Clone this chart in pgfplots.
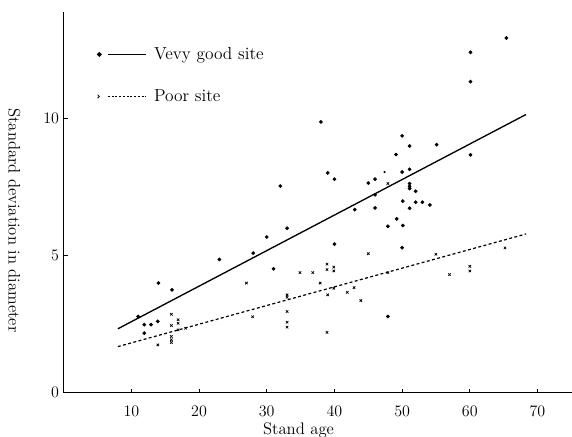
\documentclass[border=0pt]{standalone}
\usepackage{pgfplots}
\pgfplotsset{compat=1.18}
\begin{document}
\begin{tikzpicture}
\begin{axis}[
  scale only axis,
  width=380.6pt, height=285.2pt,
  xmin=0, xmax=75.1, ymin=0, ymax=13.9,
  axis lines=left,
  axis line style={-, line width=0.9pt},
  xtick={10,20,30,40,50,60,70},
  ytick={0,5,10},
  tick align=inside,
  major tick length=3pt,
  tick style={line width=0.6pt, black},
  every x tick label/.append style={font=\fontsize{11.5}{13}\selectfont, yshift=-6.5pt},
  every y tick label/.append style={font=\fontsize{11.5}{13}\selectfont},
  every axis x label/.style={at={(rel axis cs:0.462,0)}, yshift=-28pt, anchor=center, font=\fontsize{12.5}{14}\selectfont},
  every axis y label/.style={at={(rel axis cs:0,0.452)}, xshift=-37pt, rotate=-90, anchor=center, font=\fontsize{12.5}{14}\selectfont},
  xlabel={Stand age},
  ylabel={Standard deviation in diameter},
  legend style={draw=none, fill=none, at={(rel axis cs:0.065,0.914)}, anchor=north west,
    font=\fontsize{13}{15}\selectfont, row sep=17pt, inner sep=0pt,
    nodes={inner sep=2pt}},
  legend cell align=left,
  clip=false,
]
\coordinate (SW) at (rel axis cs:0,0);
\coordinate (NE) at (rel axis cs:1,1);
% good site regression
\addplot[black, line width=1.0pt, no marks,
  legend image code/.code={\fill[black] (0pt,0pt) circle (1.2pt); \draw[line width=0.8pt] (6.5pt,0pt) -- (35pt,0pt); \path (38.5pt,0pt);}]
  coordinates {(8.0,2.33) (68.3,10.15)};
\addlegendentry{Vevy good site}
% poor site regression
\addplot[black, line width=0.9pt, no marks, dash pattern=on 2.2pt off 1.8pt,
  legend image code/.code={\draw[line width=0.55pt] (-1.3pt,-1.3pt) -- (1.3pt,1.3pt) (-1.3pt,1.3pt) -- (1.3pt,-1.3pt); \draw[line width=0.7pt, dash pattern=on 1.5pt off 1.3pt] (6.5pt,0pt) -- (35pt,0pt); \path (38.5pt,0pt);}]
  coordinates {(8.0,1.68) (68.3,5.79)};
\addlegendentry{Poor site}
% good site points
\addplot[only marks, mark=*, mark size=1.2pt, black, forget plot] table {
x y
11.0 2.78
14.0 4.00
16.0 3.75
11.9 2.48
12.9 2.48
13.9 2.60
11.9 2.17
23.0 4.86
28.0 5.09
30.0 5.68
31.0 4.52
32.0 7.54
33.0 6.00
38.0 9.88
39.0 8.02
40.0 7.79
40.0 5.42
43.0 6.68
45.0 7.65
46.0 7.79
46.0 7.22
46.0 6.74
47.9 6.07
47.9 2.78
49.1 8.69
49.2 6.34
50.0 9.37
50.0 8.05
50.1 6.99
50.1 6.10
50.0 5.29
51.1 9.00
51.1 8.15
51.1 7.63
51.1 7.53
51.1 7.45
52.0 7.35
51.1 6.73
52.0 6.95
53.0 6.95
54.1 6.85
55.1 9.05
60.1 12.42
60.1 11.35
60.1 8.68
65.4 12.94
};
\addplot[only marks, mark=*, mark size=0.6pt, black, forget plot] table {
x y
47.4 8.05
};
% poor site points
\addplot[only marks, mark=x, mark size=1.3pt, black, mark options={line width=0.55pt}, forget plot] table {
x y
15.9 2.86
15.9 2.45
16.9 2.66
16.9 2.53
16.9 2.29
18.0 2.35
15.9 2.05
15.9 1.93
15.9 1.83
13.9 1.74
27.0 4.00
27.9 2.77
33.0 3.57
33.0 3.48
33.0 2.96
33.0 2.57
33.0 2.39
34.9 4.38
36.8 4.38
37.9 4.00
38.9 4.69
38.9 4.49
39.9 4.58
39.9 4.44
39.0 3.57
39.9 3.81
41.9 3.66
42.9 3.83
43.9 3.36
38.9 2.20
45.0 5.07
47.9 4.38
47.9 7.63
55.0 5.05
57.0 4.31
60.0 4.61
60.0 4.44
65.2 5.28
};
\end{axis}
\pgfresetboundingbox
\path[use as bounding box] ([xshift=-47.7pt,yshift=-33pt]SW) rectangle ([yshift=8.8pt]NE);
\end{tikzpicture}
\end{document}
